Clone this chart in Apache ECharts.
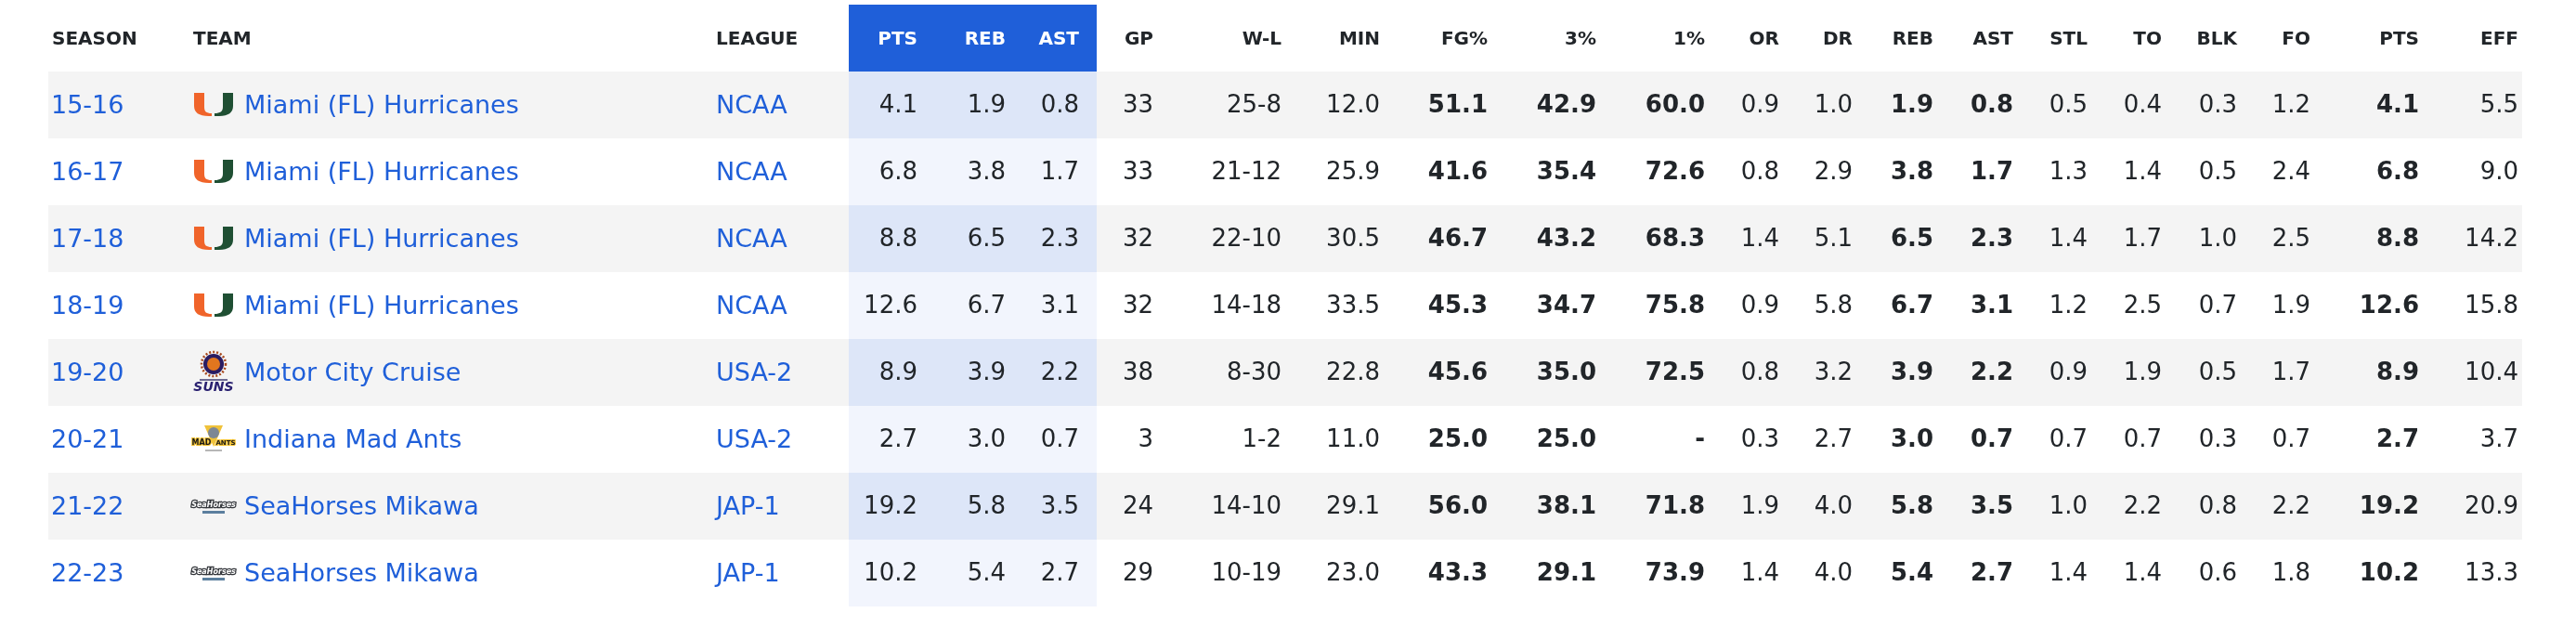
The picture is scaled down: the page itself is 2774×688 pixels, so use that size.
<!DOCTYPE html>
<html>
<head>
<meta charset="utf-8">
<title>Player stats</title>
<script src="https://cdn.jsdelivr.net/npm/echarts@6/dist/echarts.min.js"></script>
<style>
html, body { margin: 0; padding: 0; background: #fff; }
#container { width: 2774px; height: 688px; }
</style>
</head>
<body>
<div id="container"></div>
<script>
// table values, one list per column
var seasons = ['15-16', '16-17', '17-18', '18-19', '19-20', '20-21', '21-22', '22-23'];
var teams = ['Miami (FL) Hurricanes', 'Miami (FL) Hurricanes', 'Miami (FL) Hurricanes', 'Miami (FL) Hurricanes',
    'Motor City Cruise', 'Indiana Mad Ants', 'SeaHorses Mikawa', 'SeaHorses Mikawa'];
var leagues = ['NCAA', 'NCAA', 'NCAA', 'NCAA', 'USA-2', 'USA-2', 'JAP-1', 'JAP-1'];
var pts = ['4.1', '6.8', '8.8', '12.6', '8.9', '2.7', '19.2', '10.2'];
var reb = ['1.9', '3.8', '6.5', '6.7', '3.9', '3.0', '5.8', '5.4'];
var ast = ['0.8', '1.7', '2.3', '3.1', '2.2', '0.7', '3.5', '2.7'];
var gp = ['33', '33', '32', '32', '38', '3', '24', '29'];
var wl = ['25-8', '21-12', '22-10', '14-18', '8-30', '1-2', '14-10', '10-19'];
var min = ['12.0', '25.9', '30.5', '33.5', '22.8', '11.0', '29.1', '23.0'];
var fgPct = ['51.1', '41.6', '46.7', '45.3', '45.6', '25.0', '56.0', '43.3'];
var threePct = ['42.9', '35.4', '43.2', '34.7', '35.0', '25.0', '38.1', '29.1'];
var onePct = ['60.0', '72.6', '68.3', '75.8', '72.5', '-', '71.8', '73.9'];
var or = ['0.9', '0.8', '1.4', '0.9', '0.8', '0.3', '1.9', '1.4'];
var dr = ['1.0', '2.9', '5.1', '5.8', '3.2', '2.7', '4.0', '4.0'];
var stl = ['0.5', '1.3', '1.4', '1.2', '0.9', '0.7', '1.0', '1.4'];
var to = ['0.4', '1.4', '1.7', '2.5', '1.9', '0.7', '2.2', '1.4'];
var blk = ['0.3', '0.5', '1.0', '0.7', '0.5', '0.3', '0.8', '0.6'];
var fo = ['1.2', '2.4', '2.5', '1.9', '1.7', '0.7', '2.2', '1.8'];
var eff = ['5.5', '9.0', '14.2', '15.8', '10.4', '3.7', '20.9', '13.3'];
var logos = ['miami', 'miami', 'miami', 'miami', 'suns', 'ants', 'seahorses', 'seahorses'];

var BLUE = '#1f5fd9';
var INK = '#212529';
var FONT = '"DejaVu Sans", Verdana, sans-serif';

// x = edge the text hangs from on the value axis
var columns = [
    { label: 'SEASON', values: seasons, x: 55, headX: 56, align: 'left', link: true },
    { label: 'TEAM', values: teams, x: 263, headX: 208, align: 'left', link: true },
    { label: 'LEAGUE', values: leagues, x: 771, align: 'left', link: true },
    { label: 'PTS', values: pts, x: 988, head: '#fff' },
    { label: 'REB', values: reb, x: 1083, head: '#fff' },
    { label: 'AST', values: ast, x: 1162, head: '#fff' },
    { label: 'GP', values: gp, x: 1242 },
    { label: 'W-L', values: wl, x: 1380 },
    { label: 'MIN', values: min, x: 1486 },
    { label: 'FG%', values: fgPct, x: 1602, bold: true },
    { label: '3%', values: threePct, x: 1719, bold: true },
    { label: '1%', values: onePct, x: 1836, bold: true },
    { label: 'OR', values: or, x: 1916 },
    { label: 'DR', values: dr, x: 1995 },
    { label: 'REB', values: reb, x: 2082, bold: true },
    { label: 'AST', values: ast, x: 2168, bold: true },
    { label: 'STL', values: stl, x: 2248 },
    { label: 'TO', values: to, x: 2328 },
    { label: 'BLK', values: blk, x: 2409 },
    { label: 'FO', values: fo, x: 2488 },
    { label: 'PTS', values: pts, x: 2605, bold: true },
    { label: 'EFF', values: eff, x: 2712 }
];

var rowNames = ['header'].concat(seasons);

// [x, row, text, font, colour, align]
var cells = [];
columns.forEach(function (c) {
    cells.push([c.headX || c.x, 'header', c.label, 'bold 20px ' + FONT, c.head || INK, c.align || 'right']);
    c.values.forEach(function (v, i) {
        var size = c.link ? '27px ' : '26px ';
        cells.push([c.x, seasons[i], v, (c.bold ? 'bold ' : '') + size + FONT, c.link ? BLUE : INK, c.align || 'right']);
    });
});

var stripeData = seasons.map(function (s, i) { return [52, s, 2716, i % 2 ? '#ffffff' : '#f4f4f4']; });
var highlightData = [[914, 'header', 1181, BLUE]].concat(seasons.map(function (s, i) {
    return [914, s, 1181, i % 2 ? '#f2f5fd' : '#dde6f8'];
}));
var logoData = seasons.map(function (s, i) { return [208, s, logos[i]]; });

function bandItem(params, api) {
    var start = api.coord([api.value(0), api.value(1)]);
    var end = api.coord([api.value(2), api.value(1)]);
    var h = api.size([0, 1])[1];
    return {
        type: 'rect',
        shape: { x: start[0], y: start[1] - h / 2, width: end[0] - start[0], height: h },
        style: { fill: api.value(3) }
    };
}

function cellItem(params, api) {
    var p = api.coord([api.value(0), api.value(1)]);
    return {
        type: 'text',
        style: {
            x: p[0], y: p[1] + 1.5, text: api.value(2), font: api.value(3), fill: api.value(4),
            textAlign: api.value(5), textVerticalAlign: 'middle'
        }
    };
}

function logoText(x, y, text, font, fill, stroke, lw) {
    return {
        type: 'text',
        style: { x: x, y: y, text: text, font: font, fill: fill, stroke: stroke, lineWidth: lw || 0,
            textAlign: 'center', textVerticalAlign: 'middle' }
    };
}

function logoShapes(name) {
    if (name === 'miami') {
        return [
            { type: 'path', shape: { pathData: 'M1 -13H12V2C12 7 14 9 20 9V12H17C6 12 1 8 1 1Z' }, style: { fill: '#f0642a' } },
            { type: 'path', shape: { pathData: 'M32 -13H43V1C43 8 38 12 28 12H23V9C29 9 32 7 32 2Z' }, style: { fill: '#1f4f33' } }
        ];
    }
    if (name === 'suns') {
        return [
            { type: 'circle', shape: { cx: 22, cy: -9, r: 13 }, style: { fill: 'none', stroke: '#a8481c', lineWidth: 2.5, lineDash: [2, 2] } },
            { type: 'circle', shape: { cx: 22, cy: -9, r: 11 }, style: { fill: '#2a1c62' } },
            { type: 'circle', shape: { cx: 22, cy: -9, r: 7 }, style: { fill: '#e2761e' } },
            { type: 'rect', shape: { x: 7, y: 7, width: 30, height: 2 }, style: { fill: '#6d6a92' } },
            logoText(22, 16, 'SUNS', 'italic bold 14px ' + FONT, '#2a2170')
        ];
    }
    if (name === 'ants') {
        return [
            { type: 'polygon', shape: { points: [[12, -15], [32, -15], [22, 8]] }, style: { fill: '#f0c23a' } },
            { type: 'circle', shape: { cx: 22, cy: -7, r: 6 }, style: { fill: '#7d8794' } },
            logoText(9, 4, 'MAD', 'bold 8px ' + FONT, '#1b1b1b', '#f3c12f', 2),
            logoText(35, 4, 'ANTS', 'bold 7px ' + FONT, '#1b1b1b', '#f3c12f', 2),
            { type: 'rect', shape: { x: 13, y: 11, width: 18, height: 2 }, style: { fill: '#b7b7b7' } }
        ];
    }
    return [
        logoText(22, -1, 'SeaHorses', 'italic bold 8px ' + FONT, '#ffffff', '#33363b', 2.5),
        { type: 'rect', shape: { x: 10, y: 5, width: 24, height: 3 }, style: { fill: '#5b7f9e' } }
    ];
}

function logoItem(params, api) {
    var p = api.coord([api.value(0), api.value(1)]);
    return { type: 'group', x: p[0], y: p[1], children: logoShapes(api.value(2)) };
}

var dom = document.getElementById('container');
var myChart = echarts.init(dom);

var option = {
    animation: false,
    backgroundColor: '#ffffff',
    grid: { left: 0, right: 0, top: 5, bottom: 35 },
    xAxis: { type: 'value', min: 0, max: 2774, show: false },
    yAxis: { type: 'category', data: rowNames, inverse: true, show: false },
    series: [
        { type: 'custom', renderItem: bandItem, data: stripeData, silent: true, z: 1 },
        { type: 'custom', renderItem: bandItem, data: highlightData, silent: true, z: 2 },
        { type: 'custom', renderItem: logoItem, data: logoData, silent: true, z: 3 },
        { type: 'custom', renderItem: cellItem, data: cells, silent: true, z: 4 }
    ]
};

myChart.setOption(option);
</script>
</body>
</html>
